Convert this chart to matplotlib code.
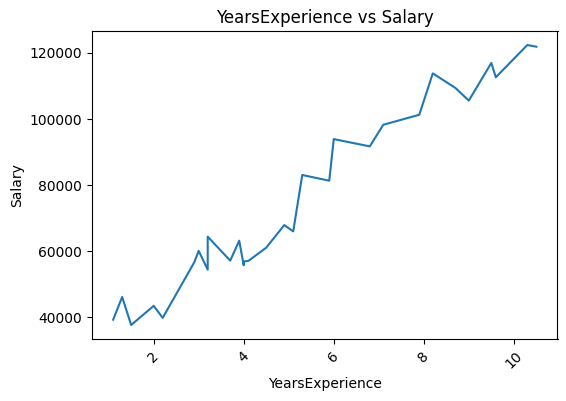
import matplotlib
matplotlib.use('Agg')
import matplotlib.pyplot as plt

years = [1.1, 1.3, 1.5, 2.0, 2.2, 2.9, 3.0, 3.2, 3.2, 3.7, 3.9, 4.0, 4.0, 4.1, 4.5,
         4.9, 5.1, 5.3, 5.9, 6.0, 6.8, 7.1, 7.9, 8.2, 8.7, 9.0, 9.5, 9.6, 10.3, 10.5]
salary = [39343, 46205, 37731, 43525, 39891, 56642, 60150, 54445, 64445, 57189,
          63218, 55794, 56957, 57081, 61111, 67938, 66029, 83088, 81363, 93940,
          91738, 98273, 101302, 113812, 109431, 105582, 116969, 112635, 122391, 121872]

fig = plt.figure(figsize=(5.66, 4.01), dpi=100)
ax = fig.add_axes([92 / 566, 1 - 339 / 401, (557.5 - 92) / 566, (339 - 31) / 401])
ax.plot(years, salary)
ax.set_title('YearsExperience vs Salary')
ax.set_xlabel('YearsExperience')
ax.set_ylabel('Salary')
plt.setp(ax.get_xticklabels(), rotation=45)
fig.savefig('out.png', dpi=100)
